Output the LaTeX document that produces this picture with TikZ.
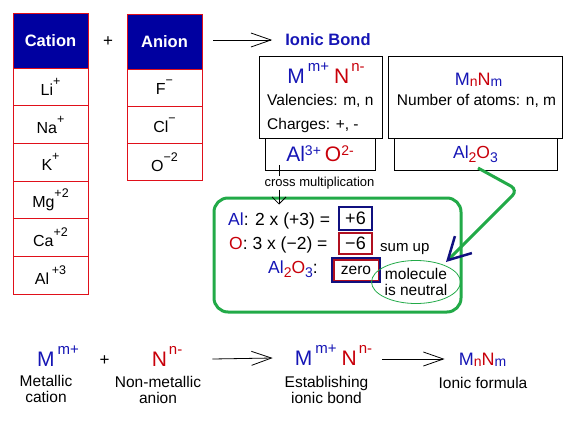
\documentclass[tikz,border=0pt]{standalone}
\usepackage{fontspec}
\setmainfont{Liberation Sans}
\usepackage{xcolor}
\usetikzlibrary{arrows.meta,positioning,shapes.geometric}
\definecolor{hdrblue}{HTML}{0000A0}
\definecolor{cellred}{HTML}{E0101A}
\definecolor{mblue}{HTML}{1515B5}
\definecolor{nred}{HTML}{C8000A}
\definecolor{grn}{HTML}{22AA48}
\definecolor{navy}{HTML}{10107F}
\definecolor{dred}{HTML}{B01020}
\newcommand{\fsz}[1]{\fontsize{#1}{#1}\selectfont}
\newcommand{\bodyfont}{\fontsize{15.5}{16}\selectfont}
\newcommand{\supx}[3]{\raisebox{#1}{\fsz{#2}#3}}
\newcommand{\subx}[3]{\raisebox{-#1}{\fsz{#2}#3}}
\newcommand{\chg}[1]{\supx{10pt}{12.5}{#1}}
% general ions and formulas
\newcommand{\Mion}{\textcolor{mblue}{\fsz{21}M\hspace{3pt}\supx{12pt}{15}{m+}}}
\newcommand{\Nion}{\textcolor{nred}{\fsz{21}N\hspace{2pt}\supx{12pt}{15}{n-}}}
\newcommand{\MnNm}{\textcolor{mblue}{M}\subx{1pt}{14}{\textcolor{nred}{n}}\textcolor{nred}{N}\subx{1pt}{14}{\textcolor{mblue}{m}}}
\newcommand{\AlO}{\textcolor{mblue}{Al}\subx{4pt}{14}{\textcolor{nred}{2}}\textcolor{nred}{O}\subx{4pt}{14}{\textcolor{mblue}{3}}}
\newcommand{\AlOion}{\textcolor{mblue}{\fsz{21}Al\supx{6pt}{14}{3+}}\hspace{4pt}\textcolor{nred}{\fsz{21}O\supx{6pt}{14}{2-}}}
\tikzset{
  >={Straight Barb[length=20pt,width=14pt]},
  hdr/.style={draw=cellred, fill=hdrblue, text=white, line width=1pt, outer sep=0pt, inner sep=0pt, minimum width=75pt, minimum height=55pt, font=\bfseries\fsz{16.5}},
  cell/.style={draw=cellred, fill=white, line width=1pt, outer sep=0pt, inner sep=0pt, minimum width=75pt, minimum height=37.7pt, font=\fsz{16}},
  frame/.style={draw=black, line width=1pt, inner sep=0pt, outer sep=0pt},
  lbl/.style={inner sep=0pt},
  flow/.style={->, line width=0.8pt},
  valbox/.style={line width=1.3pt, inner sep=0pt, minimum width=33pt, font=\fsz{18}},
  calcbox/.style={draw=grn, line width=3pt, rounded corners=14pt},
  ovalnote/.style={ellipse, draw=grn, line width=0.8pt, inner sep=0pt, minimum width=77pt, minimum height=43pt, align=center, font=\bodyfont}
}
\begin{document}
\begin{tikzpicture}[x=1pt,y=-1pt]
  \useasboundingbox (0,0) rectangle (577,423);
  % ion tables
  \node[hdr] (cation) at (50.5,40.5) {Cation};
  \node[cell,below=0pt of cation] (li) {Li\chg{+}};
  \node[cell,below=0pt of li] (na) {Na\chg{+}};
  \node[cell,below=0pt of na] (k) {K\chg{+}};
  \node[cell,below=0pt of k] (mg) {Mg\chg{+2}};
  \node[cell,below=0pt of mg] (ca) {Ca\chg{+2}};
  \node[cell,below=0pt of ca] (al) {Al\,\chg{+3}};
  \node[lbl,font=\fsz{17}] (plus) at (108,42) {+};
  \node[hdr] (anion) at (164.5,41.5) {Anion};
  \node[cell,minimum height=37.3pt,below=0pt of anion] (f) {F\chg{−}};
  \node[cell,minimum height=37.3pt,below=0pt of f] (cl) {Cl\chg{−}};
  \node[cell,minimum height=37.3pt,below=0pt of cl] (o) {O\chg{−2}};
  \node[lbl,font=\bfseries\fsz{16.5},text=mblue] (ionic) at (328,40) {Ionic Bond};
  \draw[flow] ([xshift=11pt]anion.east |- ionic) -- ([xshift=-13pt]ionic.west);

  % bond and formula boxes
  \node[frame,minimum width=123pt,minimum height=82pt] (bondbox) at (320.5,97) {};
  \node[lbl,anchor=base] (genbond) at ([xshift=5.5pt,yshift=-27pt]bondbox.north) {\Mion\hspace{5pt}\Nion};
  \node[lbl,anchor=base west,font=\bodyfont] (valency) at ([xshift=8pt,yshift=-49pt]bondbox.north west) {Valencies: m, n};
  \node[lbl,anchor=base west,font=\bodyfont] (charge) at ([xshift=8pt,yshift=-73pt]bondbox.north west) {Charges: +, -};
  \node[frame,minimum width=110pt,minimum height=32pt] (alobond) at (320,154) {\AlOion};
  \node[frame,minimum width=174pt,minimum height=82pt] (atombox) at (475,97) {};
  \node[lbl,anchor=base,font=\fsz{18}] (genform) at ([xshift=3.5pt,yshift=-29pt]atombox.north) {\MnNm};
  \node[lbl,anchor=base,font=\bodyfont] (natoms) at ([xshift=1.5pt,yshift=-49.7pt]atombox.north) {Number of atoms: n, m};
  \node[frame,minimum width=163pt,minimum height=32pt,font=\fsz{17.5}] (aloform) at (475.5,154) {\AlO};

  % charge balance
  \node[calcbox,minimum width=247pt,minimum height=114pt] (calc) at (337.5,255) {};
  \coordinate (xstart) at ([xshift=-41pt,yshift=5pt]alobond.south);
  \path (calc.north -| xstart) coordinate (xtop);
  \draw[->,>={Straight Barb[length=7pt,width=14pt]},line width=0.8pt] (xstart) -- ([yshift=-8pt]xtop);
  \node[lbl,font=\fsz{13},fill=white,inner ysep=1pt] (cross) at (319.5,183) {cross multiplication};
  \node[lbl,anchor=base west,font=\fsz{17.5}] (alcharge) at (228,225) {\textcolor{mblue}{Al}: 2 x (+3) =};
  \node[lbl,anchor=base west,font=\fsz{17.5}] (ocharge) at (229,249.5) {\textcolor{nred}{O}: 3 x (−2) =};
  \node[lbl,anchor=base west,font=\fsz{17.5}] (total) at (268,273) {\AlO:};
  \node[valbox,draw=navy,minimum height=23pt] (plussix) at (355.5,218.5) {+6};
  \node[valbox,draw=dred,minimum height=21pt] (minussix) at (355.5,243.5) {−6};
  \node[valbox,draw=navy,line width=1.1pt,minimum width=48pt,minimum height=24pt,font=\bodyfont] (zero) at (356,270) {zero};
  \draw[dred,line width=1.1pt] ([shift={(2.5pt,-2.5pt)}]zero.north west) rectangle ([shift={(-2.5pt,2.5pt)}]zero.south east);
  \node[lbl,anchor=base west,font=\fsz{15}] (sumup) at (380,251) {sum up};
  \node[ovalnote] (neutral) at (416,282) {molecule\\is neutral};
  \coordinate (tip) at (446,262);
  \draw[grn,line width=3pt,rounded corners=8pt,-{Straight Barb[color=navy,length=22pt,width=24pt,line width=2.5pt]}] ([xshift=2.5pt,yshift=2pt]aloform.south) -- (518,190) -- (tip);

  % general scheme
  \node[lbl,anchor=base] (metal) at (58,366) {\Mion};
  \node[lbl,anchor=base,font=\fsz{17}] (plusb) at (104.5,365) {+};
  \node[lbl,anchor=base] (nonmetal) at (167,366) {\Nion};
  \node[lbl,anchor=base] (ionbond) at (333.5,365) {\Mion\hspace{5pt}\Nion};
  \node[lbl,anchor=base,font=\fsz{18}] (ionform) at (482.5,365) {\MnNm};
  \node[lbl,font=\bodyfont,align=center] (metallbl) at (46,389) {Metallic\\cation};
  \node[lbl,font=\bodyfont,align=center] (nonmetallbl) at (158,390) {Non-metallic\\anion};
  \node[lbl,font=\bodyfont,align=center] (ionbondlbl) at (326.5,390) {Establishing\\ionic bond};
  \node[lbl,font=\bodyfont] (ionformlbl) at (483,383) {Ionic formula};
  \draw[flow] ([xshift=30pt,yshift=7pt]nonmetal.base east) -- ([xshift=-22pt,yshift=7pt]ionbond.base west);
  \draw[flow] ([xshift=10pt,yshift=6pt]ionbond.base east) -- ([xshift=-14pt,yshift=6pt]ionform.base west);
\end{tikzpicture}
\end{document}
